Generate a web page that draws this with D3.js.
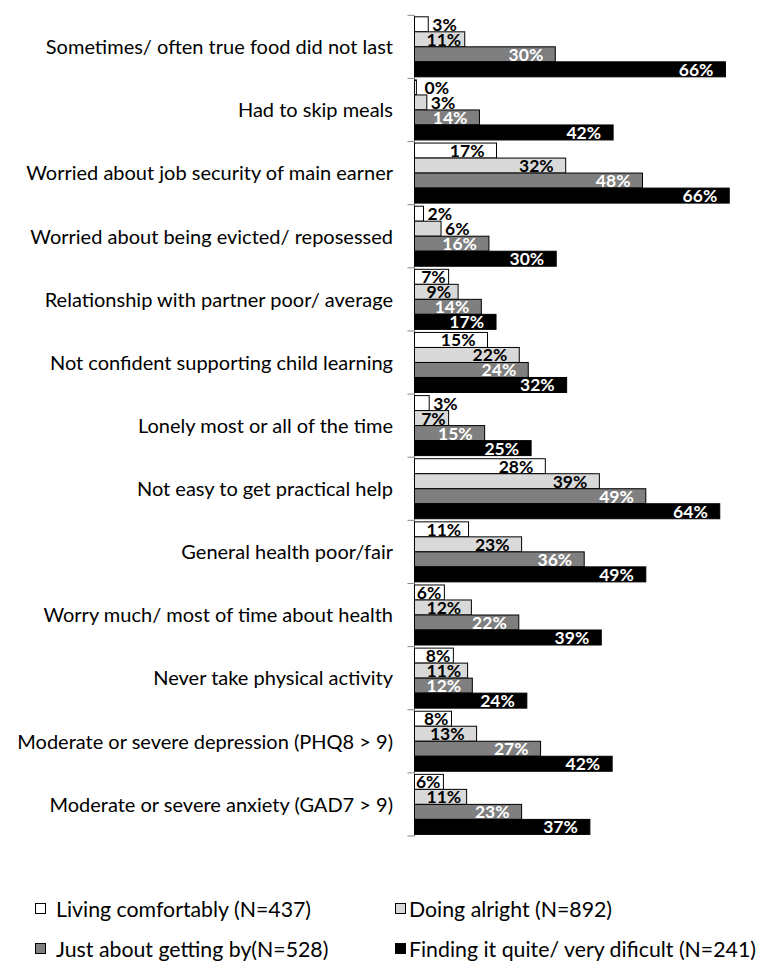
<!DOCTYPE html>
<html>
<head>
<meta charset="utf-8">
<script src="https://cdn.jsdelivr.net/npm/d3@7"></script>
<style>
  html, body { margin: 0; padding: 0; background: #fff; }
  svg { display: block; }
  text { font-family: Lato, "Open Sans", sans-serif; }
</style>
</head>
<body>
<svg id="chart" width="782" height="978"></svg>
<script>
// ---- data ----
const categories = [
  "Sometimes/ often true food did not last",
  "Had to skip meals",
  "Worried about job security of main earner",
  "Worried about being evicted/ reposessed",
  "Relationship with partner poor/ average",
  "Not confident supporting child learning",
  "Lonely most or all of the time",
  "Not easy to get practical help",
  "General health poor/fair",
  "Worry much/ most of time about health",
  "Never take physical activity",
  "Moderate or severe depression (PHQ8 > 9)",
  "Moderate or severe anxiety (GAD7 > 9)"
];
const seriesNames = [
  "Living comfortably (N=437)",
  "Doing alright (N=892)",
  "Just about getting by(N=528)",
  "Finding it quite/ very dificult (N=241)"
];
const livingComfortably  = [2.9, 0.4, 17.3, 1.9, 7.2, 15.4, 3.1, 27.6, 11.4, 6.3, 8.2, 7.8, 6.1];
const doingAlright       = [10.6, 2.6, 31.9, 5.6, 9.2, 22.1, 7.2, 39.0, 22.6, 12.0, 11.2, 13.1, 11.0];
const justAboutGettingBy = [29.7, 13.7, 48.1, 15.7, 14.1, 24.0, 14.8, 48.8, 35.8, 22.0, 12.2, 26.6, 22.6];
const findingDifficult   = [65.6, 41.9, 66.4, 29.9, 17.2, 32.1, 24.6, 64.4, 48.8, 39.4, 23.7, 41.7, 37.0];

const seriesValues = [livingComfortably, doingAlright, justAboutGettingBy, findingDifficult];
const fills = ["#ffffff", "#d9d9d9", "#7f7f7f", "#000000"];
const labelColors = ["#000000", "#000000", "#ffffff", "#ffffff"];

// ---- layout ----
const svg = d3.select("#chart");
const x0 = 414.5;
const x = d3.scaleLinear().domain([0, 70]).range([x0, x0 + 70 * 4.74]);
const y = d3.scaleBand().domain(categories).range([15.3, 836]).padding(0);
const sub = d3.scaleBand().domain(d3.range(4)).range([1.5, y.bandwidth() - 1.6]).padding(0);

const rows = categories.map((c, i) => ({
  cat: c,
  vals: seriesValues.map((s, k) => ({ k, v: s[i] }))
}));

// axis line + ticks
const axisG = svg.append("g");
axisG.append("line")
  .attr("x1", x0).attr("x2", x0)
  .attr("y1", y.range()[0]).attr("y2", y.range()[1])
  .attr("stroke", "#868686").attr("stroke-width", 1);
const boundaries = categories.map(c => y(c)).concat([y.range()[1]]);
axisG.selectAll("line.tick").data(boundaries).enter().append("line")
  .attr("class", "tick")
  .attr("x1", x0 - 7).attr("x2", x0)
  .attr("y1", d => d).attr("y2", d => d)
  .attr("stroke", "#868686").attr("stroke-width", 1);

// category labels
svg.append("g").selectAll("text").data(categories).enter().append("text")
  .attr("x", 393)
  .attr("y", d => y(d) + y.bandwidth() / 2 + 7.3)
  .attr("text-anchor", "end")
  .attr("font-size", 20)
  .attr("fill", "#000")
  .text(d => d);

// bars
const groups = svg.append("g").selectAll("g").data(rows).enter().append("g")
  .attr("transform", d => `translate(0,${y(d.cat)})`);

groups.selectAll("rect").data(d => d.vals).enter().append("rect")
  .attr("x", x(0))
  .attr("y", d => sub(d.k))
  .attr("width", d => Math.max(0, x(d.v) - x(0)))
  .attr("height", sub.bandwidth())
  .attr("fill", d => fills[d.k])
  .attr("stroke", "#000")
  .attr("stroke-width", 1);

// value labels
groups.selectAll("text").data(d => d.vals).enter().append("text")
  .attr("font-size", 17.5)
  .attr("font-weight", "bold")
  .attr("y", d => sub(d.k) + sub.bandwidth() / 2 + 6.5)
  .text(d => Math.round(d.v) + "%")
  .each(function(d) {
    const w = this.getComputedTextLength();
    const end = x(d.v);
    const barW = end - x0;
    const t = d3.select(this);
    if (barW >= w + 3) {
      const right = Math.min(Math.max(end - 12, x0 + 12 + w), end - 3);
      t.attr("x", right).attr("text-anchor", "end").attr("fill", labelColors[d.k]);
    } else {
      t.attr("x", Math.max(end + 4, x0 + 10)).attr("text-anchor", "start").attr("fill", "#000");
    }
  });

// legend
const legendPos = [
  { sx: 35, tx: 56, sy: 903 },
  { sx: 395, tx: 409, sy: 903 },
  { sx: 35, tx: 56, sy: 943 },
  { sx: 395, tx: 409, sy: 943 }
];
const leg = svg.append("g").selectAll("g").data(seriesNames).enter().append("g");
leg.append("rect")
  .attr("x", (d, i) => legendPos[i].sx + 0.5)
  .attr("y", (d, i) => legendPos[i].sy + 0.5)
  .attr("width", 10).attr("height", 10)
  .attr("fill", (d, i) => fills[i])
  .attr("stroke", "#000").attr("stroke-width", 1);
leg.append("text")
  .attr("x", (d, i) => legendPos[i].tx)
  .attr("y", (d, i) => legendPos[i].sy + 14)
  .attr("font-size", 21.3)
  .attr("fill", "#000")
  .text(d => d);
</script>
</body>
</html>
